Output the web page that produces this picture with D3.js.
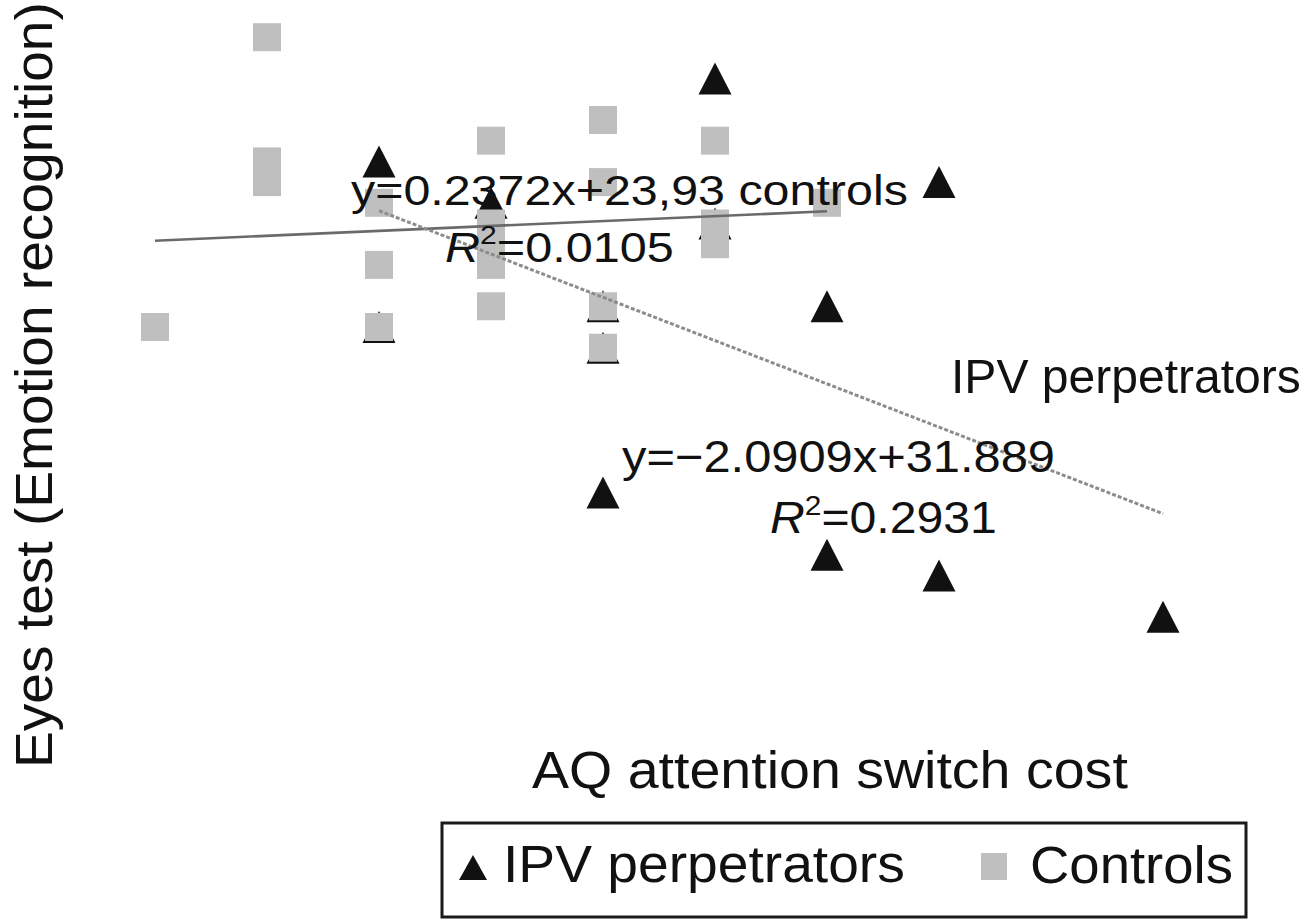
<!DOCTYPE html>
<html>
<head>
<meta charset="utf-8">
<script src="https://cdn.jsdelivr.net/npm/d3@7"></script>
<style>
  html, body { margin: 0; padding: 0; background: #fff; }
  svg { display: block; }
  text { font-family: "Liberation Sans", Arial, Helvetica, sans-serif; fill: #111; }
</style>
</head>
<body>
<svg id="chart" width="1303" height="920"></svg>
<script>
// ---- data ----
const ipvX = [3, 3, 4, 5, 5, 5, 6, 6, 7, 7, 8, 8, 10];
const ipvY = [28, 20, 26, 21, 19, 12, 32, 25, 21, 9, 27, 8, 6];
const controlsX = [1, 2, 2, 2, 3, 3, 3, 4, 4, 4, 4, 4, 5, 5, 5, 5, 6, 6, 6, 7];
const controlsY = [20, 34, 28, 27, 26, 23, 20, 29, 25, 24, 23, 21, 30, 27, 21, 19, 29, 25, 24, 26];
const controlsFit = { slope: 0.2372, intercept: 23.93, xRange: [1, 7] };
const ipvFit = { slope: -2.0909, intercept: 31.889, xRange: [3, 10] };
const seriesNames = ["IPV perpetrators", "Controls"];
const xTitle = "AQ attention switch cost";
const yTitle = "Eyes test (Emotion recognition)";

// ---- scales ----
const svg = d3.select("#chart");
const x = d3.scaleLinear().domain([1, 10]).range([155, 1163]);
const y = d3.scaleLinear().domain([0, 35]).range([741, 741 - 35 * 20.7]);

const triW = 33, triH = 32, sq = 28;
const triPath = (w, h) => `M0,${-h / 2}L${w / 2},${h / 2}L${-w / 2},${h / 2}Z`;

// helper: place text and stretch horizontally to a target width
function fitText(sel, x0, y0, width, rotate) {
  const w = sel.node().getComputedTextLength();
  const sx = width / w;
  sel.attr("transform", `translate(${x0},${y0})` + (rotate ? ` rotate(${rotate})` : "") + ` scale(${sx},1)`);
}

// ---- points ----
const ipv = ipvX.map((d, i) => ({ x: d, y: ipvY[i] }));
const controls = controlsX.map((d, i) => ({ x: d, y: controlsY[i] }));

svg.append("g").selectAll("path").data(ipv).join("path")
  .attr("d", triPath(triW, triH))
  .attr("transform", d => `translate(${x(d.x)},${y(d.y)})`)
  .attr("fill", "#111");

svg.append("g").selectAll("rect").data(controls).join("rect")
  .attr("x", d => x(d.x) - sq / 2)
  .attr("y", d => y(d.y) - sq / 2)
  .attr("width", sq).attr("height", sq)
  .attr("fill", "#bfbfbf");

// ---- regression lines ----
const line = d3.line().x(d => x(d[0])).y(d => y(d[1]));
function fitPts(f) { return f.xRange.map(v => [v, f.slope * v + f.intercept]); }

svg.append("path").attr("d", line(fitPts(controlsFit)))
  .attr("fill", "none").attr("stroke", "#6a6a6a").attr("stroke-width", 2.6);
svg.append("path").attr("d", line(fitPts(ipvFit)))
  .attr("fill", "none").attr("stroke", "#8c8c8c").attr("stroke-width", 3)
  .attr("stroke-dasharray", "4,2");

// ---- annotation texts ----
function eqText(parts, size) {
  const t = svg.append("text").attr("font-size", size);
  parts.forEach(p => {
    const ts = t.append("tspan").text(p.t);
    if (p.italic) ts.attr("font-style", "italic");
    if (p.sup) ts.attr("font-size", size * 0.62).attr("dy", -size * 0.42);
    if (p.after) ts.attr("dy", size * 0.42);
  });
  return t;
}

fitText(eqText([{ t: "y=0.2372x+23,93 controls" }], 43), 351, 205, 557);
fitText(eqText([{ t: "R", italic: true }, { t: "2", sup: true }, { t: "=0.0105", after: true }], 43), 445, 262, 229);
fitText(eqText([{ t: "y=\u22122.0909x+31.889" }], 44), 622, 472, 433);
fitText(eqText([{ t: "R", italic: true }, { t: "2", sup: true }, { t: "=0.2931", after: true }], 44), 770, 533, 227);
fitText(svg.append("text").attr("font-size", 48).text(seriesNames[0]), 951, 393, 350);

// ---- axis titles ----
fitText(svg.append("text").attr("font-size", 51).text(xTitle), 532, 788, 596);
fitText(svg.append("text").attr("font-size", 51).text(yTitle), 52, 768, 766, -90);

// ---- legend ----
svg.append("rect").attr("x", 442).attr("y", 823).attr("width", 804).attr("height", 94)
  .attr("fill", "none").attr("stroke", "#1a1a1a").attr("stroke-width", 3);
svg.append("path").attr("d", triPath(28, 25)).attr("transform", "translate(473,867.5)").attr("fill", "#111");
fitText(svg.append("text").attr("font-size", 51).text(seriesNames[0]), 503, 882, 402);
svg.append("rect").attr("x", 981).attr("y", 853).attr("width", 26).attr("height", 27).attr("fill", "#bfbfbf");
fitText(svg.append("text").attr("font-size", 51).text(seriesNames[1]), 1030, 883, 203);
</script>
</body>
</html>
